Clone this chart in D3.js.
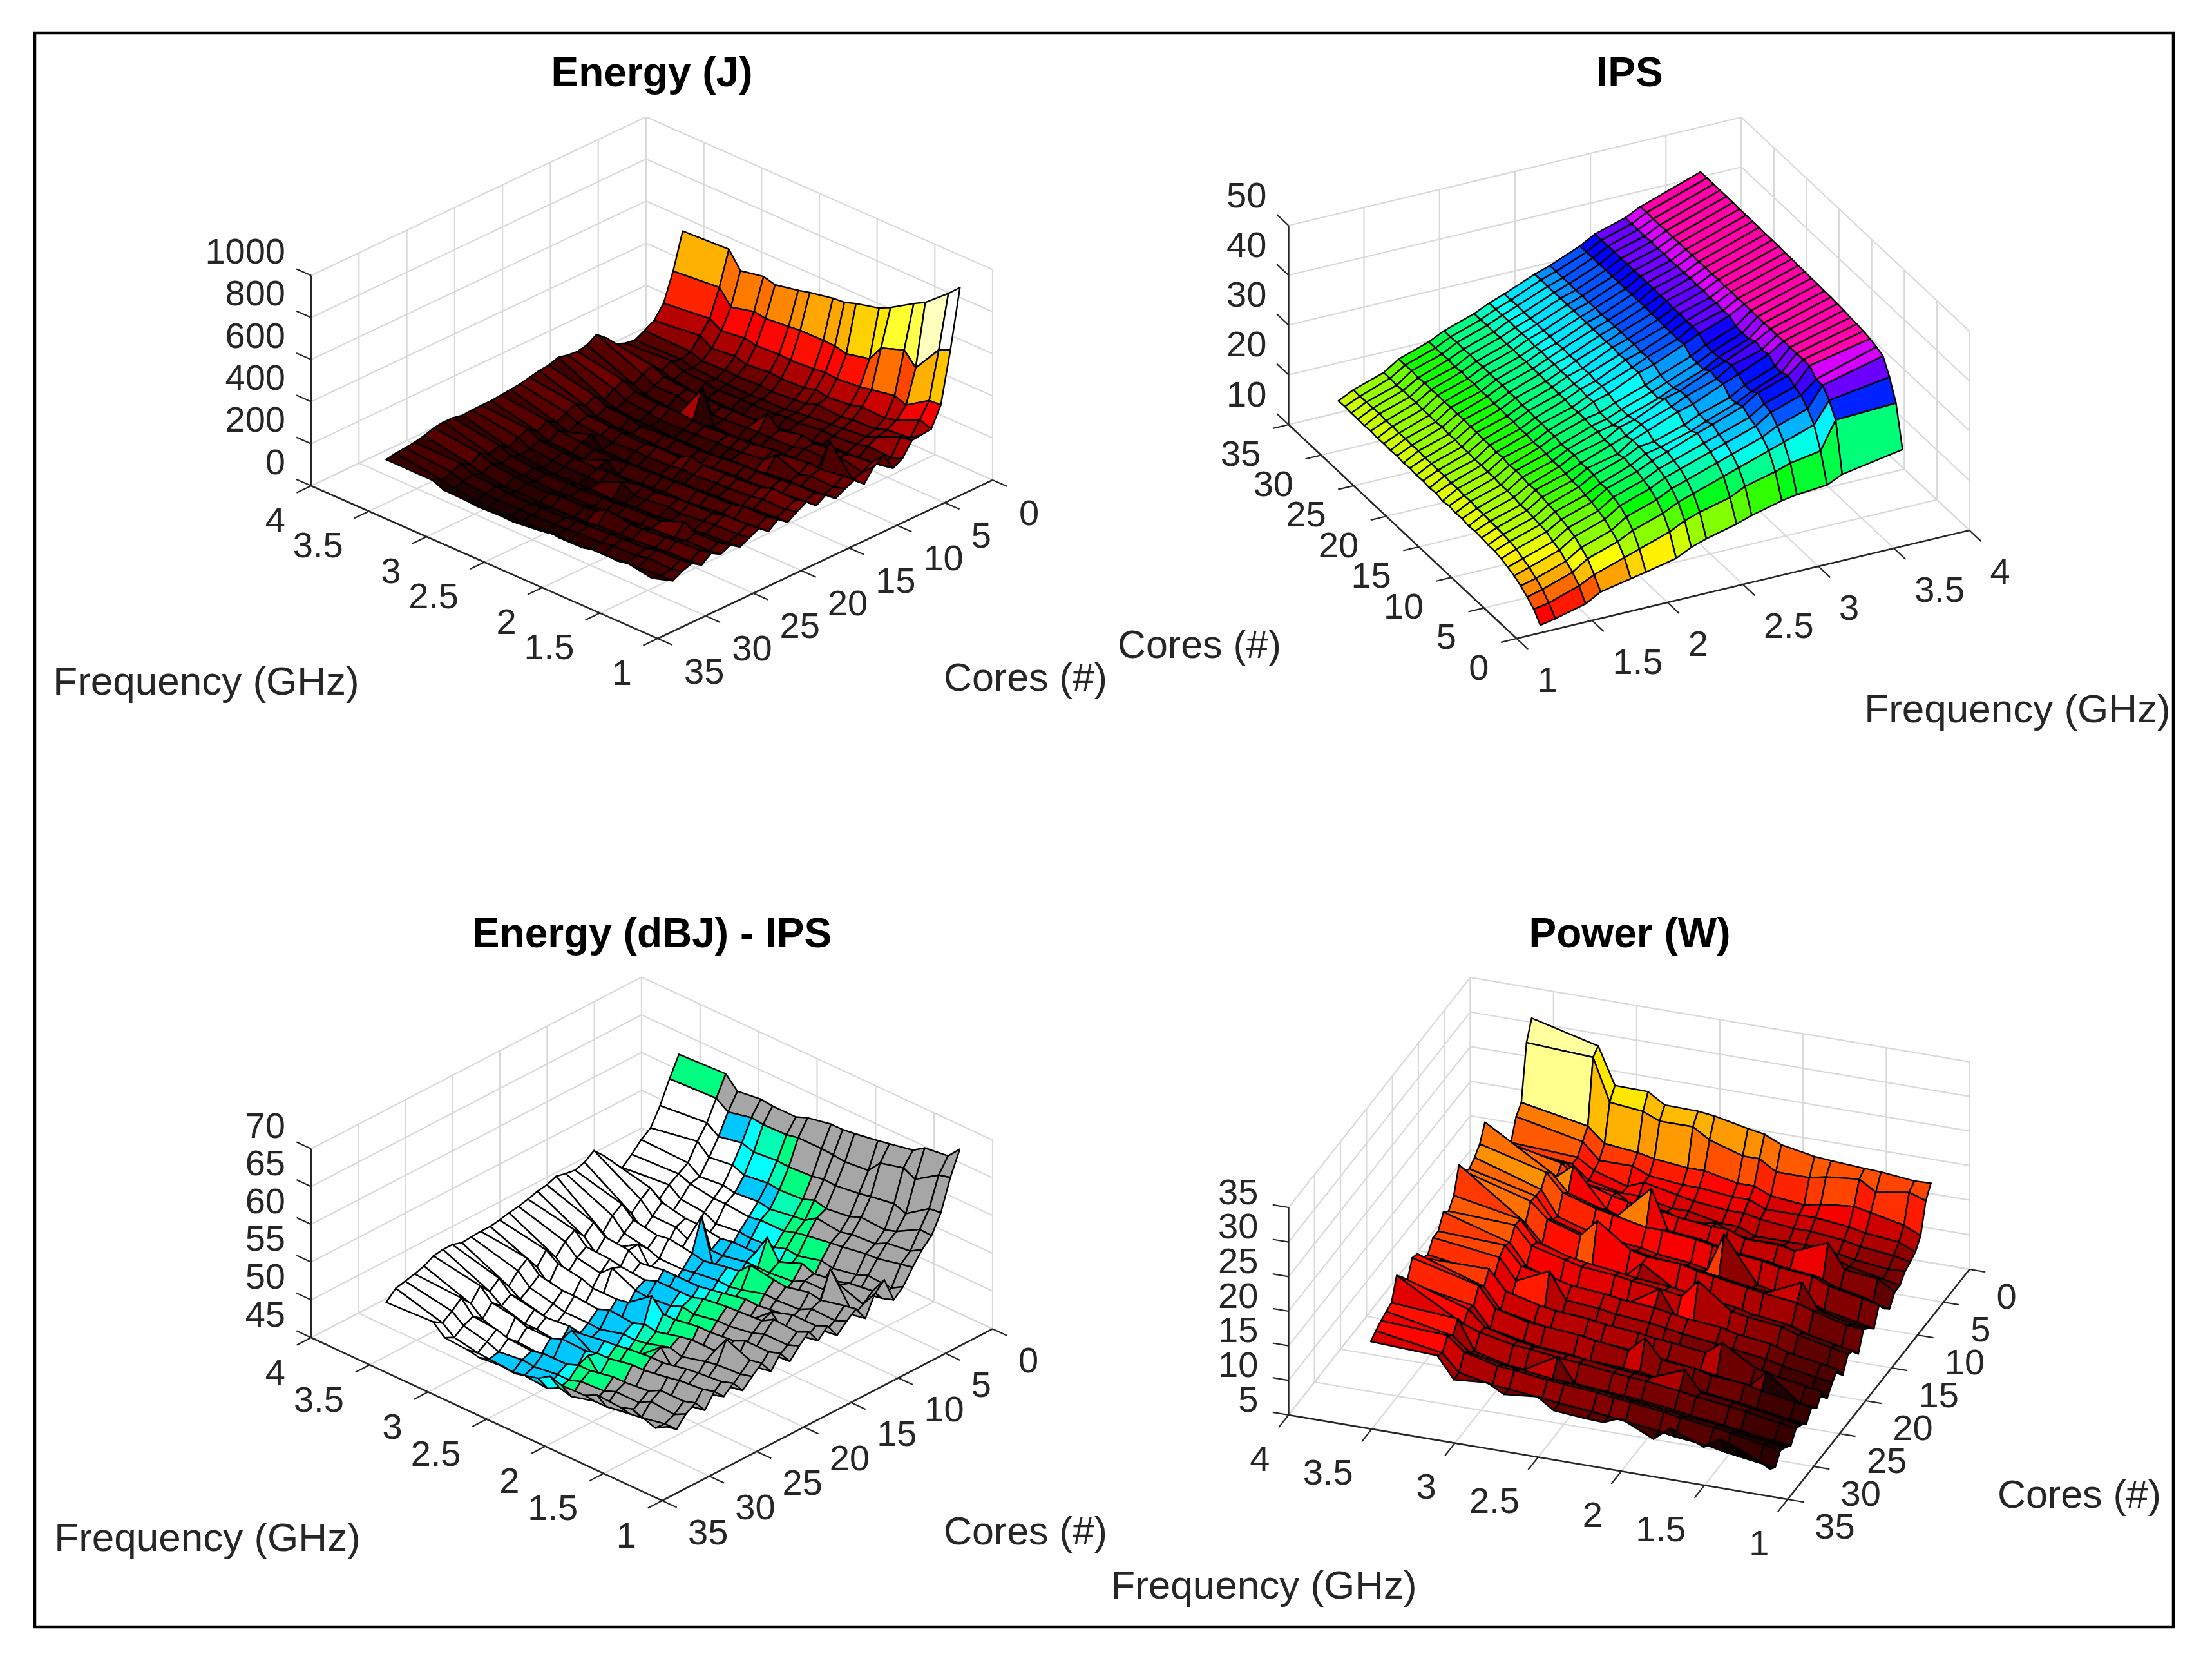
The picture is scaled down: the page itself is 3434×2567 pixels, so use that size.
<!DOCTYPE html>
<html><head><meta charset="utf-8">
<script src="https://cdn.jsdelivr.net/npm/d3@7"></script>
<style>html,body{margin:0;padding:0;background:#fff}svg{display:block}text{font-family:"Liberation Sans",Arial,sans-serif}</style>
</head><body><div id="chart"></div>
<script>
const frequencies=[1.2,1.3,1.5,1.6,1.8,1.9,2.1,2.2,2.3,2.5,2.6,2.8,2.9,3.1,3.2,3.6];
const cores=[1,2,3,4,5,6,7,8,9,10,11,12,13,14,15,16,17,18,19,20,21,22,23,24,25,26,27,28,29,30,31,32];
const freqTicks=[1,1.5,2,2.5,3,3.5,4];
const coreTicks=[0,5,10,15,20,25,30,35];
const energyTicks=[0,200,400,600,800,1000];
const ipsTicks=[10,20,30,40,50];
const dbTicks=[45,50,55,60,65,70];
const powerTicks=[5,10,15,20,25,30,35];
const energyJ=[
[888,836,745,715,648,621,594,576,571,550,536,514,529,508,586,576],
[612,589,455,516,477,401,377,389,392,391,385,375,384,357,426,407],
[373,370,300,320,300,290,280,285,278,270,275,268,280,265,300,276],
[280,300,250,235,240,225,215,225,210,205,210,200,215,205,240,215],
[275,235,225,205,200,190,200,180,175,165,170,165,170,165,185,189],
[270,260,215,190,180,175,165,160,150,150,145,150,150,155,170,165],
[205,185,190,175,165,170,155,158,150,145,148,142,155,160,185,172],
[180,170,158,155,150,135,140,128,130,118,122,125,125,140,160,190],
[262,205,195,185,175,190,165,220,160,160,155,165,165,178,205,240],
[230,180,205,170,170,155,150,150,150,140,140,140,155,155,185,278],
[170,165,300,148,148,140,130,130,120,128,285,120,125,135,160,250],
[210,205,190,195,180,185,165,165,160,150,155,165,158,170,200,240],
[190,175,178,162,205,160,145,140,142,135,130,130,140,150,180,245],
[165,160,150,150,140,128,130,118,115,118,112,122,120,130,150,255],
[205,190,190,178,170,172,160,155,150,150,150,142,158,165,190,240],
[175,170,160,155,145,148,132,130,128,122,125,128,128,138,165,235],
[215,200,205,185,180,178,170,190,160,160,150,155,160,165,195,225],
[190,175,175,165,155,155,145,150,140,135,138,130,140,150,175,215],
[160,158,150,140,135,130,125,118,118,110,112,115,165,128,150,210],
[195,185,185,170,165,165,155,155,150,145,140,140,150,158,180,205],
[160,155,145,148,135,128,128,122,120,112,160,115,120,125,150,200],
[195,190,185,170,170,165,150,155,145,150,140,145,145,155,185,200],
[172,165,160,155,142,150,135,130,170,120,122,122,128,138,165,199],
[150,145,140,130,128,122,120,115,110,112,110,108,115,125,140,195],
[180,170,165,195,150,150,145,140,138,130,135,130,135,145,170,205],
[158,150,150,140,135,130,125,122,118,118,112,118,118,130,150,206],
[185,175,170,165,155,155,175,145,138,140,130,130,140,148,175,200],
[150,145,140,135,125,125,120,112,112,108,110,112,110,125,145,185],
[180,170,170,155,150,150,140,140,130,130,125,128,135,140,170,175],
[165,150,155,140,140,130,128,120,120,115,118,112,120,130,150,170],
[140,140,130,128,120,120,110,115,105,108,105,108,110,118,135,165],
[167,150,170,160,165,150,148,157,140,127,130,125,130,133,156,157]];
const ipsValues=[
[10,10.6,12.1,13.8,15,15.6,16.9,18.4,19.4,20.9,21.9,23.4,23.9,24.4,25.8,27.9],
[12,12.5,14.5,16,18,19,21,22.5,23.5,25,26.5,28,29,30,35.5,36],
[13.2,14,16,18,20,21.5,23.5,25,26,28,29,31,32,34,38.2,40],
[14.2,15,17,19,21,23,25,26.5,27.5,29.5,30.5,32.5,34,36,40,43],
[15,16,18,20,22,24,26,27.5,28.5,30.5,31.5,33.5,35.5,37.5,40,43.6],
[15.5,16.5,18.5,20.5,22.5,24.5,26.5,28,29,31,32,34,36,38,41.5,44],
[16,17.2,19.2,21,23,25,27,28.4,29.5,31.8,32.8,35,37,39,41.5,44.3],
[16.3,17.5,19.4,21.3,23.2,24.8,27,28.6,29.2,31,32.2,34.4,36,38.4,41.5,44.5],
[16.3,17.7,19.6,21.5,23.6,25.3,27.3,28.8,29.1,31,32.4,34.3,36.1,38.4,41.5,44.6],
[16.5,17.8,19.8,21.8,23.6,25.4,26.8,28.9,30,32.4,33.2,35.8,37,39.6,41.5,44.8],
[16.6,17.9,19.7,22,23.8,25.2,27.4,28.5,30.1,32.2,33.6,35.6,37.6,39.3,41.5,44.9],
[16.4,18,20,21.8,24,25.6,27.2,29,29.8,32.6,33.4,36,37.2,39.8,41.5,45],
[16.7,18,20.1,22.1,23.9,25.5,27.6,28.2,29.4,31.4,32.8,35,36.8,39,41.5,45],
[16.6,18.2,20,22.2,24.1,25.3,27.5,28.2,29.4,31.5,32.7,35.1,36.6,39,41.5,45.1],
[16.8,18.1,20.2,22,24.2,25.7,27.7,28.3,29.5,31.6,32.9,35.2,36.8,39.1,41.5,45.1],
[16.5,18.3,20.2,22.3,24,25.6,27.8,29.2,30.1,32.9,33.8,36.4,37.8,40,41.6,45.2],
[16.9,18.2,20.3,22.2,24.3,25.8,27.6,29,30.4,32.7,34.1,36.2,38.1,39.8,41.5,45.2],
[16.7,18.4,20.2,22.4,24.2,25.7,27.9,29.3,30.2,33,33.9,36.4,37.9,40.1,41.6,45.3],
[16.9,18.3,20.4,22.3,24.4,25.9,27.8,29.1,30.5,32.8,34.2,36.3,38.2,39.9,41.5,45.3],
[16.8,18.4,20.3,22.5,24.3,25.8,28,29.4,30.3,33.1,34,36.5,38,40.1,41.6,45.4],
[17,18.3,20.5,22.4,24.5,26,27.9,29.2,30.6,32.9,34.2,36.4,38.3,40,41.5,45.4],
[16.8,18.5,20.4,22.6,24.4,25.9,28.1,29.4,30.4,33,34.1,36.6,38.1,40.2,41.6,45.4],
[17,18.4,20.6,22.5,24.6,26.1,28,29.3,30.6,33,34.1,36.5,38.3,40,41.5,45.5],
[16.9,18.5,20.4,22.6,24.4,26,28.1,29.5,30.4,33.1,34,36.6,38.2,40.1,41.6,45.5],
[17,18.4,20.5,22.5,24.6,26,28,29.3,30.6,33,34.1,36.5,38.3,40,41.5,45.5],
[16.9,18.5,20.5,22.6,24.5,26.1,28.1,29.5,30.5,33.1,34,36.6,38.2,40.1,41.6,45.5],
[17.1,18.4,20.6,22.5,24.6,26,28,29.4,30.6,33,34.1,36.5,38.3,40,41.5,45.6],
[16.9,18.6,20.5,22.6,24.4,26.1,28.1,29.4,30.5,33.1,34,36.6,38.2,40.1,41.6,45.6],
[17,18.5,20.6,22.4,24.6,26,28,29.5,30.5,33,34.1,36.5,38.3,40,41.5,45.6],
[17,18.5,20.4,22.6,24.5,26.1,28.1,29.4,30.6,33,34,36.6,38.2,40.1,41.5,45.6],
[17.1,18.4,20.6,22.5,24.5,26,28,29.4,30.5,33.1,34.1,36.5,38.2,40,41.6,45.6],
[17,18.5,20.5,22.5,24.5,26,28,29.4,30.5,33,34,36.5,38.2,40,41.5,45.6]];
const energyDb=[
[68,66.4,66,65,64.4,64.1,63.6,63.4,63.4,62.8,62.2,62.2,62.4,62,63.6,63.3],
[64.9,64.5,62.5,63.3,62.5,60.8,60.5,60.7,60.8,60.8,60.5,60.4,60.6,59.9,61,60.7],
[60.9,60.7,58.6,59.2,58.7,58.4,58,58.1,57.8,57.6,57.7,57.4,57.9,57.3,58.4,57.8],
[58.5,58.6,56.9,56.4,56.6,56,55.6,56,55.4,55.2,55.4,55,55.6,55.2,56.6,55.5],
[57.3,56.4,56,55.2,55,54.6,55,54,53.8,53.3,53.6,53.3,53.6,53.3,54.4,54.6],
[55.6,55.3,54.6,54.5,54,53.8,53.3,53,52.5,52.5,52.2,52.5,52.5,53,53.6,53.3],
[53.7,52.8,53,52.4,51.8,52.1,51.3,51.5,51,50.7,50.9,50.5,51.3,51.6,52.8,52.2],
[52.6,52.1,51.5,51.3,51,50.1,50.4,49.6,49.8,48.9,49.2,49.4,49.4,50.4,51.6,53],
[55.9,53.7,53.3,52.8,52.4,53,51.8,54.3,51.6,51.6,51.3,51.8,51.8,52.5,53.7,55.1],
[54.7,52.6,53.7,52.1,52.1,51.3,51,51,51,50.4,50.4,50.4,51.3,51.3,52.8,56.4],
[52.1,51.8,56.5,50.9,50.9,50.4,49.8,49.8,49.1,49.6,55.5,49.1,49.4,50.1,51.6,55.5],
[54,53.7,53,53.3,52.6,52.8,53.3,51.8,51.6,51,51.3,51.8,51.5,52.1,53.5,55.1],
[53,52.4,52.5,51.7,51.5,51.6,50.7,50.4,50.5,50.1,49.8,49.8,50.4,51,52.6,55.3],
[51.8,51.6,51,51,50.4,49.6,49.8,48.9,48.7,48.9,48.5,49.2,51.6,49.8,51,55.6],
[53.7,53,53,52.5,52.1,52.2,51.6,51.3,51,51,51,50.5,51.5,51.8,53,55.1],
[52.4,52.1,51.6,53.3,50.7,50.9,49.9,49.8,49.6,49.2,49.4,49.6,49.6,50.3,51.8,54.9],
[54.2,53.5,53.7,52.8,52.6,52.5,52.1,51.6,51.6,51.6,51,51.3,51.6,51.8,53.3,54.5],
[53,52.4,52.4,51.8,51.3,51.3,50.7,51,50.4,50.1,50.3,51.8,50.4,51,52.4,54.2],
[51.6,51.5,51,50.4,50.1,49.8,49.4,48.9,48.9,48.3,48.5,48.7,48.7,49.6,51,54],
[53.3,52.8,52.8,52.1,51.8,51.8,51.3,51.3,53,50.7,50.4,50.4,51,51.5,52.6,53.7],
[51.6,51.3,50.7,50.9,50.1,49.6,49.6,49.2,49.1,48.5,48.9,48.7,49.1,49.4,51,53.5],
[53.3,53,54.3,52.1,52.1,51.8,51,51.3,50.7,51,50.4,50.7,50.7,51.3,52.8,53.5],
[52.2,51.8,51.6,51.3,50.5,51,50.1,49.8,49.9,49.1,49.2,49.2,49.6,50.3,51.8,53.4],
[51,50.7,50.4,49.8,49.6,51.7,49.1,48.7,48.3,48.5,48.3,48.2,48.7,49.4,50.4,53.3],
[52.6,52.1,51.8,51.6,51,51,50.7,50.4,50.3,49.8,50.1,49.8,50.1,50.7,52.1,53.7],
[51.5,51,51,50.4,50.1,49.8,49.4,49.2,48.9,50.9,48.5,48.9,48.9,49.8,51,53.7],
[52.8,52.4,52.1,51.8,51.3,51.3,50.7,50.7,50.3,50.4,49.8,49.8,50.4,50.9,52.4,53.5],
[51,50.7,50.4,50.1,49.4,49.4,49.1,51,48.5,48.2,48.3,48.5,48.3,49.4,50.7,52.8],
[52.6,52.1,52.1,51.3,51,51,50.4,50.4,49.8,49.8,49.4,49.6,50.1,50.4,52.1,52.4],
[51.8,51,51.3,50.4,50.4,49.8,49.6,49.1,49.1,48.7,48.9,48.5,49.1,49.8,51,52.1],
[50.4,50.4,49.8,49.6,49.1,49.1,48.3,48.7,47.9,48.2,47.9,48.2,48.3,48.9,50.1,51.8],
[51.4,50.5,51.6,51.1,51.3,50.5,50.4,50.9,49.9,49.1,49.3,49,49.3,49.5,50.9,50.6]];
const powerW=[
[17.6,17.5,18,18.1,18.4,18.6,19.5,20.6,21,22,22.3,22.4,23.9,24,29.3,31.7],
[16,16.8,16,17.5,17,16.5,16.5,18,18,19.5,21,21,22,22.5,28.6,29.1],
[11.9,13,14,14.5,14,13.5,14,15,15,16,16,16.5,17,17.5,19.6,21.4],
[10.5,11.5,12,12.5,13,13,13,14,14,14.5,14.5,15,16,16,18.3,20.3],
[10,10.5,11,11.5,12,12,12.5,13,13,13.5,14,15,14,15.5,17,17.5],
[9.6,9.5,10,10.5,11,11,11,12,12,13,13,14,14,15,17,18],
[8.5,9,10,10.8,10.5,11.5,11.5,12,13,12.5,13.5,13.5,15,15.5,18,19],
[8.5,10,10.5,14,12,12.5,12.5,13.5,13.5,14,14.5,15,15.5,17,19,21],
[7,7.5,8.5,9.5,10,10.5,11,11.5,12,12.5,13,13.5,14.5,20,18,21],
[8,9,10,11,11.5,12,12.5,13,13.5,14,19.7,15,15.5,17,19.5,25.2],
[9.5,10,11,12,12.5,13,13.5,14,14.5,15,15,16,16.5,18,20.5,23],
[7,7.5,8.5,9.5,10,10.5,17,11.5,12,12.5,13,13.5,14,15.5,19,22],
[8,8.2,9.4,13,10.8,11,11.8,12.2,12.6,13,13.5,14,14.5,16,19,21.3],
[8.8,9,10.2,11,11.6,12,12.8,13.2,13.8,14,14.6,18,15.5,17,19.2,21.9],
[6.2,6.8,7.8,8.6,9,9.6,10.2,10.6,11,14,11.8,12.4,12.8,14.4,17,23.8],
[7.6,8,9,9.8,10.4,11,11.6,12,12.4,12.8,13.2,13.8,14.2,15.6,18.5,20.3],
[8,8.6,9.6,10.4,11,11.4,15,12.4,12.8,13.4,13.8,14.2,14.8,16,18.6,19],
[6,6.4,7.4,8.2,8.8,9.2,9.8,10.2,14,11,11.4,12,12.4,14,17,19.8],
[7.8,8.2,9,9.8,10.4,11,11.4,11.8,12.2,12.6,13,13.4,14,15,17.6,18],
[6.8,7.2,8,8.6,9.2,9.6,10.2,10.6,11,11.4,11.8,12.2,16,13.8,16.8,18],
[5.5,5.8,6.4,7,7.6,8.2,8.6,9,9.2,9.8,10.2,10.4,11,12.2,15,16.5],
[7.4,7.8,8.6,9.2,12,10.2,10.8,11,11.4,11.8,12.2,12.6,13,14.2,17,17],
[6,6.2,10,7.6,8.2,8.6,9.2,9.4,9.8,10.2,10.6,11,11.4,12.4,15.4,18.5],
[7,7.4,8.2,8.8,9.2,9.8,10.2,13,10.8,11.4,11.8,12.2,12.4,13.6,16.5,18.9],
[5.6,5.8,6.6,7,7.6,8,8.6,9,9.2,9.4,9.8,10.2,10.6,11.6,14.5,16.4],
[6.4,6.8,7.6,8,8.6,11.5,9.6,9.8,10,10.6,10.8,11.2,11.6,12.8,15,18],
[6.8,7.2,8,8.4,9,9.4,10,10.2,10.4,11,11.2,11.8,12,13,13.8,19.2],
[5.3,5.6,6.2,6.6,7.2,7.6,8.2,8.4,8.6,9,12.5,9.8,10,11.2,15.5,16.2],
[6,6.3,7,7.6,8,8.4,9,9.2,9.6,10,10.2,10.8,11,12,14,15.9],
[6.5,6.9,7.8,8.2,8.8,9.2,9.8,10,10.4,10.8,11,11.6,11.8,13,15,15.5],
[5,5.3,6,6.5,7,7.4,8,8.3,8.6,9,9.3,9.8,10,11,13.4,15],
[5.7,7,8.9,7.3,9.2,7.2,9.4,8.4,8.5,8.9,10.5,10,11.3,10.9,14,14.4]];
const dbBands=["ggggggggggggggs","gggggggggstcbww","ggggggggstccwww","ggggggsstbbwwww","ggggggsstcwwwww",
"gggggssscbwwwww","gggggstcbbwwwww","gggggstcbbwwwww","gggggsscbbwwwww","gggggstcbbwwwww","gggggsscbbwwwww",
"gggggsscbbwwwww","gggggstcbbwwwww","gggggsscbbwwwww","gggggstcbbwwwww","gggggsscbbwwwww","gggggstcbbwwwww",
"gggggsscbbwwwww","gggggsscbbwwwww","gggggstcbbwwwww","gggggsscbbwwwww","gggggstcbbwwwww","gggggsscbbwwwww",
"gggggstcbbwwwww","gggggsscbbwwwww","gggggsscbbwwwww","gggggstcbbwwwww","gggggsscbwwwwww","gggggsscbbwwwww",
"ggggggscbbbwwww","ggggggtcbbbwwww"];
const bandColors={g:"#a6a6a6",s:"#00ff80",t:"#00ffb4",c:"#00ffff",b:"#00c8ff",w:"#ffffff"};
const ipsStops=[10,12,14,15,17,18.5,20.5,22.5,24.5,26,28,29.4,30.5,33,34,36.5,38.2,40,41.5,45.6];
const ipsHues=[0,20,40,50,72,85,95,115,138,150,165,178,187,205,220,240,265,290,320,360];

const hotScale=(lo,hi)=>{const t=d3.scaleLinear([lo,hi],[0,1]).clamp(true),n=64;return v=>{const k=Math.min(n-1,Math.floor(t(v)*n))/(n-1);
 const r=Math.min(1,k/.375),g=Math.max(0,Math.min(1,(k-.375)/.375)),b=Math.max(0,(k-.75)/.25);return d3.rgb(r*255,g*255,b*255).formatHex();};};
const hue=d3.scaleLinear(ipsStops,ipsHues).clamp(true);
const hotE=hotScale(70,888),hotP=hotScale(4.5,32);

const panels=[
 {title:"Energy (J)",tx:1012,ty:112,z:energyJ,zTicks:energyTicks,O:[1541,745],U:[-538,-237],V:[-520,246],H:326.5,nearC:35,farC:0,zF:4,zC:35,zDir:"u",
  color:(i,j)=>hotE(energyJ[i][j]),zOff:[-40,-38],fOff:[-40,52],cOff:[41,50],fl:[320,1056],cl:[1592,1051]},
 {title:"IPS",tx:2530,ty:112,z:ipsValues,zTicks:ipsTicks,O:[2354.4,991],U:[703,-168],V:[-354,-332],H:309,nearC:0,farC:35,zF:1,zC:35,zDir:"v",
  color:(i,j)=>d3.hsl(hue(ipsValues[i][j]),1,.5).formatHex(),zOff:[-34,-48],fOff:[32,63],cOff:[-43,44],fl:[3132,1099],cl:[1862,1000]},
 {title:"Energy (dBJ) - IPS",tx:1012,ty:1448,z:energyDb,zTicks:dbTicks,O:[1541,2062.4],U:[-545,-253],V:[-513,266.6],H:293,nearC:35,farC:0,zF:4,zC:35,zDir:"u",
  color:(i,j)=>bandColors[dbBands[i][j]],zOff:[-40,-37],fOff:[-40,53],cOff:[40,48],fl:[322,2385],cl:[1592,2376]},
 {title:"Power (W)",tx:2530,ty:1448,z:powerW,zTicks:powerTicks,O:[3057.5,1970],U:[-774.9,-131],V:[-282.2,357],H:322,nearC:35,farC:0,zF:4,zC:35,zDir:"u",
  color:(i,j)=>hotP(powerW[i][j]),zOff:[-47,-25],fOff:[-29,67],cOff:[42,41],fl:[1962,2459],cl:[3228,2319]}
];

const W=3434,Hh=2567;
const svg=d3.select("#chart").append("svg").attr("width",W).attr("height",Hh).attr("viewBox",[0,0,W,Hh]);
svg.append("rect").attr("x",54).attr("y",51).attr("width",3320).attr("height",2474).attr("fill","#fff").attr("stroke","#000").attr("stroke-width",4.5);
const line=d3.line();
const textCol="#262626",gridCol="#d9d9d9";

panels.forEach(p=>{
 const g=svg.append("g");
 const fS=d3.scaleLinear([1,4],[0,1]),cS=d3.scaleLinear([0,35],[0,1]);
 const zS=d3.scaleLinear(d3.extent(p.zTicks),[0,p.H]);
 const P=(f,c,z)=>[p.O[0]+fS(f)*p.U[0]+cS(c)*p.V[0],p.O[1]+fS(f)*p.U[1]+cS(c)*p.V[1]-zS(z)];
 const [zLo,zHi]=zS.domain();
 const seg=(a,b,col,w)=>g.append("path").attr("d",line([a,b])).attr("fill","none").attr("stroke",col).attr("stroke-width",w);
 const wallF=4,wallC=p.farC;
 p.zTicks.forEach(z=>{seg(P(1,wallC,z),P(4,wallC,z),gridCol,2.2);seg(P(wallF,0,z),P(wallF,35,z),gridCol,2.2);});
 freqTicks.forEach(f=>{seg(P(f,wallC,zLo),P(f,wallC,zHi),gridCol,2.2);seg(P(f,0,zLo),P(f,35,zLo),gridCol,2.2);});
 coreTicks.forEach(c=>{seg(P(wallF,c,zLo),P(wallF,c,zHi),gridCol,2.2);seg(P(1,c,zLo),P(4,c,zLo),gridCol,2.2);});
 const unit=v=>{const L=Math.hypot(v[0],v[1]);return [v[0]/L,v[1]/L];};
 const uu=unit(p.U),vv=unit(p.V),tl=25;
 const nearSign=p.nearC===35?1:-1;
 seg(P(1,p.nearC,zLo),P(4,p.nearC,zLo),textCol,2.6);
 seg(P(1,0,zLo),P(1,35,zLo),textCol,2.6);
 seg(P(p.zF,p.zC,zLo),P(p.zF,p.zC,zHi),textCol,2.6);
 const lab=(pt,off,t,anchor)=>g.append("text").attr("x",pt[0]+off[0]).attr("y",pt[1]+off[1]).attr("text-anchor",anchor).attr("dominant-baseline","central").attr("font-size",56).attr("fill",textCol).text(t);
 freqTicks.forEach(f=>{const a=P(f,p.nearC,zLo);seg(a,[a[0]+nearSign*vv[0]*tl,a[1]+nearSign*vv[1]*tl],textCol,2.2);lab(a,p.fOff,f,p.nearC===35?"end":"start");});
 coreTicks.forEach(c=>{const a=P(1,c,zLo);seg(a,[a[0]-uu[0]*tl,a[1]-uu[1]*tl],textCol,2.2);lab(a,p.cOff,c,p.nearC===35?"start":"end");});
 const zd=p.zDir==="u"?uu:vv;
 p.zTicks.forEach(z=>{const a=P(p.zF,p.zC,z);seg(a,[a[0]+zd[0]*tl,a[1]+zd[1]*tl],textCol,2.2);lab(a,p.zOff,z,"end");});
 const fIdx=d3.range(frequencies.length-1).reverse();
 const cIdx=d3.range(cores.length-1);
 if(p.farC===35)cIdx.reverse();
 const faces=g.append("g");
 fIdx.forEach(j=>cIdx.forEach(i=>{
  const q=[P(frequencies[j],cores[i],p.z[i][j]),P(frequencies[j+1],cores[i],p.z[i][j+1]),P(frequencies[j+1],cores[i+1],p.z[i+1][j+1]),P(frequencies[j],cores[i+1],p.z[i+1][j])];
  faces.append("path").attr("d",line(q)+"Z").attr("fill",p.color(i,j)).attr("stroke","#000").attr("stroke-width",2.4).attr("stroke-linejoin","round");
 }));
 g.append("text").attr("x",p.tx).attr("y",p.ty).attr("text-anchor","middle").attr("dominant-baseline","central").attr("font-size",64).attr("font-weight","bold").attr("fill","#000").text(p.title);
 g.append("text").attr("x",p.fl[0]).attr("y",p.fl[1]).attr("text-anchor","middle").attr("dominant-baseline","central").attr("font-size",62).attr("fill",textCol).text("Frequency (GHz)");
 g.append("text").attr("x",p.cl[0]).attr("y",p.cl[1]).attr("text-anchor","middle").attr("dominant-baseline","central").attr("font-size",61).attr("fill",textCol).text("Cores (#)");
});
</script></body></html>
